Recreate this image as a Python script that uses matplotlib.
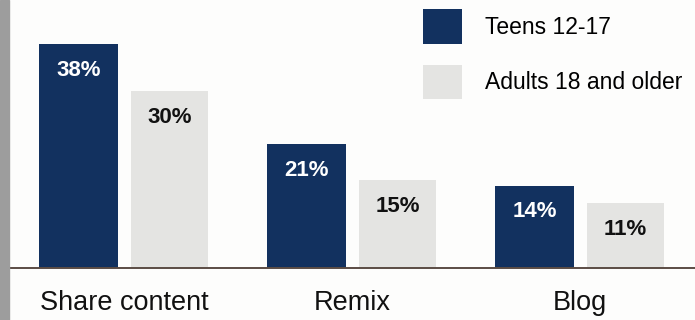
"""Grouped bar chart: content creation by teens vs. adults."""

import numpy as np
from matplotlib import pyplot as plt
from matplotlib.patches import Rectangle

plt.switch_backend("Agg")
plt.rcParams["font.family"] = ["Liberation Sans", "DejaVu Sans"]

categories = ["Share content", "Remix", "Blog"]
series_names = ["Teens 12-17", "Adults 18 and older"]
teens = [38, 21, 14]
adults = [30, 15, 11]

NAVY = "#12315f"
GRAY = "#e4e4e2"
W, H, DPI = 695, 320, 100

fig = plt.figure(figsize=(W / DPI, H / DPI), dpi=DPI, facecolor="#fdfdfc")
ax = fig.add_axes([10 / W, 52 / H, 685 / W, 268 / H])
ax.set_facecolor("none")

x = np.arange(len(categories))
b_teen = ax.bar(x - 0.2, teens, width=0.35, color=NAVY, label=series_names[0])
b_adult = ax.bar(x + 0.2, adults, width=0.335, color=GRAY, label=series_names[1])

for bars, vals, col in ((b_teen, teens, "white"), (b_adult, adults, "#111111")):
    for rect, v in zip(bars, vals):
        ax.annotate(f"{v}%", (rect.get_x() + rect.get_width() / 2, v),
                    xytext=(0, -19), textcoords="offset points",
                    ha="center", va="center", fontsize=16,
                    fontweight="bold", color=col)

ax.set_xlim(-0.5, -0.5 + 685 / 228)
ax.set_ylim(0, 268 / 5.89)
for s in ("top", "right", "left"):
    ax.spines[s].set_visible(False)
ax.spines["bottom"].set_color("#5b4c44")
ax.spines["bottom"].set_linewidth(1.4)
ax.set_yticks([])
ax.set_xticks(x)
ax.set_xticklabels(categories, fontsize=19.5, color="#111111")
ax.tick_params(axis="x", length=0, pad=16)

ax.legend(loc="upper left", bbox_to_anchor=(423 / W, 1 - 9 / H),
          bbox_transform=fig.transFigure, frameon=False, fontsize=16.5,
          handlelength=1.7, handleheight=1.95, handletextpad=1.0,
          labelspacing=0.92, borderpad=0, borderaxespad=0)

# gray edge strip on the left
fig.patches.append(Rectangle((0, 0), 9 / W, 1, transform=fig.transFigure,
                             color="#9d9d9d", zorder=0))

fig.savefig("out.png", dpi=DPI, facecolor=fig.get_facecolor())
